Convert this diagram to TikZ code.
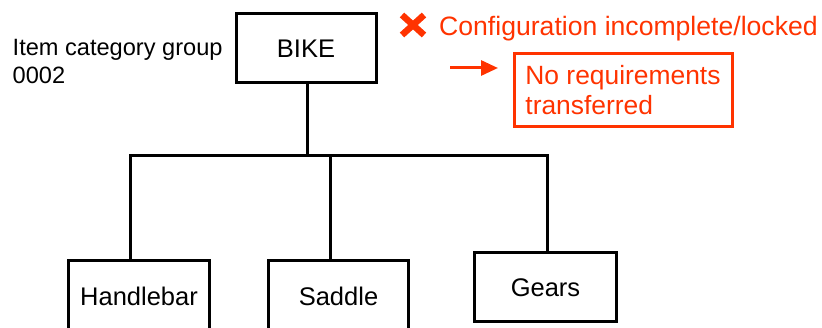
\documentclass[tikz,border=0pt]{standalone}
\usepackage{fontspec}
\setmainfont{Liberation Sans}
\usetikzlibrary{arrows.meta}
\definecolor{alertred}{RGB}{255,51,0}
\begin{document}
\begin{tikzpicture}[x=1pt,y=-1pt,
  partbox/.style={draw=black,line width=3pt,inner sep=0pt,
    font=\fontsize{25.5}{30}\selectfont,text height=18.3pt,text depth=0pt},
  wire/.style={draw=black,line width=3pt},
  alerttext/.style={text=alertred,font=\fontsize{26.6}{30}\selectfont,inner sep=0pt},
  alertbox/.style={draw=alertred,line width=3pt,text=alertred,
    font=\fontsize{26.4}{30}\selectfont,align=left,inner sep=0pt},
  note/.style={font=\fontsize{23.6}{28}\selectfont,align=left,inner sep=0pt}]
\useasboundingbox (0,0) rectangle (822,328);
\clip (0,0) rectangle (822,328);
% nodes
\node[partbox,minimum width=140pt,minimum height=69pt] (bike) at (306,48) {BIKE};
\node[partbox,minimum width=141pt,minimum height=71pt] (hb) at (139,296) {Handlebar};
\node[partbox,minimum width=140pt,minimum height=71pt] (sad) at (338.5,296) {Saddle};
\node[partbox,minimum width=142pt,minimum height=69pt] (gear) at (545.5,287) {Gears};
\node[note,anchor=north west] (icg) at (12.5,39) {Item category group\\0002};
\node[alerttext,anchor=base west] (cfg) at (439,36) {Configuration incomplete/locked};
\node[alertbox,minimum width=218pt,minimum height=73pt] (noreq) at (623,90.5) {No requirements\\transferred};
% tree connectors
\coordinate (bus) at (307,156);
\coordinate (j1) at (130,156);
\coordinate (j2) at (330,156);
\coordinate (j3) at (547,156);
\draw[wire] (bike.south -| bus) -- (bus);
\draw[wire,line cap=rect] (j1) -- (j3);
\draw[wire] (j1) -- (j1 |- hb.north);
\draw[wire] (j2) -- (j2 |- sad.north);
\draw[wire] (j3) -- (j3 |- gear.north);
% red cross
\coordinate (x1) at (402,15);
\coordinate (x2) at (424,35);
\coordinate (x3) at (424,15);
\coordinate (x4) at (402,35);
\draw[alertred,line width=6.5pt] (x1) -- (x2);
\draw[alertred,line width=6.5pt] (x3) -- (x4);
% arrow
\coordinate (a1) at (450,68);
\coordinate (a2) at (498,68);
\draw[alertred,line width=3pt,-{Triangle[length=17pt,width=15pt]}] (a1) -- (a2);
\end{tikzpicture}
\end{document}
